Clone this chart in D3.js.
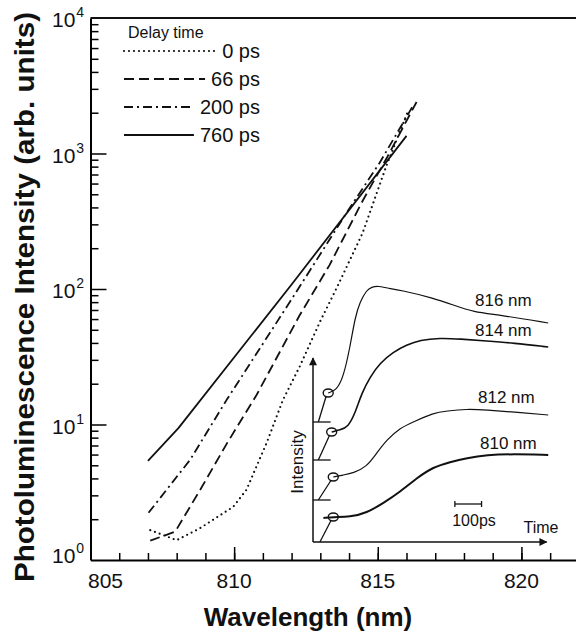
<!DOCTYPE html>
<html>
<head>
<meta charset="utf-8">
<script src="https://cdn.jsdelivr.net/npm/d3@7"></script>
<style>
  body { margin: 0; background: #fff; }
  svg { display: block; }
  text { font-family: "Liberation Sans", Arial, sans-serif; fill: #111; }
</style>
</head>
<body>
<svg id="chart" width="576" height="633"></svg>
<script>
// main plot: PL spectra at several delay times (wavelength nm, intensity arb. units)
const delayLabels = ["0 ps", "66 ps", "200 ps", "760 ps"];
const pl0ps = [[807.08, 1.66], [808.0, 1.4], [808.8, 1.71], [809.97, 2.47], [810.43, 3.3], [811.13, 7.3],
  [811.7, 15.2], [812.28, 26.7], [813.0, 58], [813.6, 105], [814.47, 258], [815.29, 800], [816.05, 2050]];
const pl66ps = [[807.08, 1.39], [807.95, 1.62], [808.82, 3.3], [809.74, 7.2], [810.78, 16.5],
  [812.28, 64], [813.32, 150], [814.48, 450], [815.34, 950], [816.35, 2400]];
const pl200ps = [[807.02, 2.23], [808.47, 5.5], [809.74, 15.2], [812, 84], [814, 390], [815.06, 850], [816.2, 2200]];
const pl760ps = [[807.0, 5.4], [808.06, 9.4], [812, 108], [816.0, 1350]];
const xMajorTicks = [805, 810, 815, 820];
const yDecades = [1, 10, 100, 1000, 10000];

// inset: transients (time ps, intensity offset units)
const insetLabels = ["816 nm", "814 nm", "812 nm", "810 nm"];
const tr816 = [[57, 149], [89, 152], [114, 165], [139, 195], [158, 225], [176, 240], [201, 252], [220, 255],
  [245, 256], [276, 254], [326, 252], [451, 244], [526, 237], [601, 230], [701, 227], [882, 219]];
const tr814 = [[70, 110], [101, 112], [132, 115], [158, 129], [183, 149], [214, 165], [251, 179], [301, 190],
  [351, 197], [401, 202], [476, 204], [551, 203], [651, 201], [751, 199], [882, 195]];
const tr812 = [[76, 65], [114, 67], [151, 69], [201, 75], [239, 89], [276, 102], [326, 114], [376, 120],
  [451, 129], [501, 131], [576, 133], [651, 132], [751, 130], [882, 127]];
const tr810 = [[39, 24], [76, 25], [139, 25], [201, 29], [264, 39], [326, 50], [389, 64], [451, 75],
  [514, 80], [576, 84], [651, 87], [751, 88], [882, 87]];
const baseLevels = [120, 82, 42, 0];
const markerT = [57, 70, 76, 76];
const markerI = [149, 110, 65, 25];
const diagStartT = [20, 20, 20, 26];
const scaleBarPs = [532, 632];

const svg = d3.select("#chart");

const x = d3.scaleLinear().domain([805, 821.9]).range([90.5, 576]);
const y = d3.scaleLog().domain([1, 1e4]).range([560, 18]);

// y axis: minor + major ticks pointing inward
const yMinor = [];
for (const d of [1, 10, 100, 1000]) for (let k = 2; k <= 9; k++) yMinor.push(k * d);

const gy = svg.append("g").attr("transform", `translate(${x(805)},0)`);
gy.call(d3.axisRight(y).tickValues(yMinor).tickSize(8).tickSizeOuter(0).tickFormat(""));
gy.call(g => g.select(".domain").remove());
svg.append("g").attr("transform", `translate(${x(805)},0)`)
  .call(d3.axisRight(y).tickValues([10, 100, 1000]).tickSize(16).tickSizeOuter(0).tickFormat(""))
  .call(g => g.select(".domain").attr("stroke-width", 2));

// x axis
svg.append("g").attr("transform", `translate(0,${y(1)})`)
  .call(d3.axisTop(x).tickValues(d3.range(806, 822)).tickSize(7).tickSizeOuter(0).tickFormat(""))
  .call(g => g.select(".domain").attr("stroke-width", 2));
svg.append("g").attr("transform", `translate(0,${y(1)})`)
  .call(d3.axisTop(x).tickValues([810, 815, 820]).tickSize(13).tickSizeOuter(0).tickFormat(""))
  .call(g => g.select(".domain").remove());
svg.selectAll("g.tick line").attr("stroke-width", 1.5);

// top frame
svg.append("line")
  .attr("x1", x(805)).attr("x2", x(821.9))
  .attr("y1", y(1e4)).attr("y2", y(1e4))
  .attr("stroke", "#111").attr("stroke-width", 2);

// x tick labels
svg.append("g").selectAll("text").data(xMajorTicks).join("text")
  .attr("x", d => x(d) + (d === 805 ? 15 : 0))
  .attr("y", 588)
  .attr("text-anchor", "middle")
  .style("font-size", "21px")
  .text(d => d);

// y tick labels 10^n
const yl = svg.append("g").selectAll("text").data(yDecades).join("text")
  .attr("x", 52)
  .attr("y", d => y(d) + (d === 1 ? 3 : 9))
  .style("font-size", "21px");
yl.append("tspan").text("10");
yl.append("tspan").attr("dy", -10).attr("dx", 1).style("font-size", "14px").text(d => Math.round(Math.log10(d)));

// axis titles
svg.append("text")
  .attr("x", 308).attr("y", 626)
  .attr("text-anchor", "middle")
  .style("font-size", "26px").style("font-weight", "bold")
  .text("Wavelength (nm)");
svg.append("text")
  .attr("transform", "translate(34,297) rotate(-90)")
  .attr("text-anchor", "middle")
  .attr("textLength", 570).attr("lengthAdjust", "spacingAndGlyphs")
  .style("font-size", "27px").style("font-weight", "bold")
  .text("Photoluminescence Intensity (arb. units)");

// spectra
const styles = [
  { dash: "0,5", cap: "round", w: 2.2 },
  { dash: "10,5", cap: "butt", w: 1.8 },
  { dash: "9,4,2,4", cap: "butt", w: 1.8 },
  { dash: null, cap: "butt", w: 1.8 }
];
const spectra = [pl0ps, pl66ps, pl200ps, pl760ps];
const line = d3.line().x(d => x(d[0])).y(d => y(d[1]));

spectra.forEach((s, i) => {
  svg.append("path")
    .attr("d", line(s))
    .attr("fill", "none")
    .attr("stroke", "#111")
    .attr("stroke-width", styles[i].w)
    .attr("stroke-linecap", styles[i].cap)
    .attr("stroke-linejoin", "round")
    .attr("stroke-dasharray", styles[i].dash);
});

// legend
svg.append("text").attr("x", 128).attr("y", 38).style("font-size", "16px").text("Delay time");
delayLabels.forEach((lab, i) => {
  const ly = 51 + i * 28;
  const t = svg.append("text")
    .attr("x", 260).attr("y", ly + 7)
    .attr("text-anchor", "end")
    .style("font-size", "20px")
    .text(lab);
  const tl = t.node().getComputedTextLength();
  svg.append("line")
    .attr("x1", 124).attr("x2", 260 - tl - 6)
    .attr("y1", ly).attr("y2", ly)
    .attr("stroke", "#111")
    .attr("stroke-width", styles[i].w)
    .attr("stroke-linecap", styles[i].cap)
    .attr("stroke-dasharray", styles[i].dash);
});

// ---- inset ----
const tx = d3.scaleLinear().domain([0, 880]).range([313, 547.7]);
const iy = d3.scaleLinear().domain([0, 260]).range([542, 282]);

const defs = svg.append("defs");
defs.append("marker").attr("id", "arrow")
  .attr("viewBox", "0 0 10 10").attr("refX", 9).attr("refY", 5)
  .attr("markerWidth", 12).attr("markerHeight", 8).attr("markerUnits", "userSpaceOnUse")
  .attr("orient", "auto")
  .append("path").attr("d", "M0,0L10,5L0,10Z").attr("fill", "#111");

svg.append("line")
  .attr("x1", tx(0)).attr("y1", iy(0)).attr("x2", tx(0)).attr("y2", iy(184))
  .attr("stroke", "#111").attr("stroke-width", 1.5).attr("marker-end", "url(#arrow)");
svg.append("line")
  .attr("x1", tx(0)).attr("y1", iy(0)).attr("x2", tx(876)).attr("y2", iy(0))
  .attr("stroke", "#111").attr("stroke-width", 1.5).attr("marker-end", "url(#arrow)");

// baseline ticks and diagonal markers
baseLevels.forEach((b, i) => {
  if (b > 0) {
    svg.append("line")
      .attr("x1", tx(0)).attr("x2", tx(66)).attr("y1", iy(b)).attr("y2", iy(b))
      .attr("stroke", "#111").attr("stroke-width", 1.3);
  }
  svg.append("line")
    .attr("x1", tx(diagStartT[i])).attr("y1", iy(b))
    .attr("x2", tx(markerT[i]) - 2).attr("y2", iy(markerI[i]) + 3)
    .attr("stroke", "#111").attr("stroke-width", 1.3);
  svg.append("ellipse")
    .attr("cx", tx(markerT[i])).attr("cy", iy(markerI[i]))
    .attr("rx", 5).attr("ry", 4)
    .attr("fill", "none").attr("stroke", "#111").attr("stroke-width", 1.4);
});

const tline = d3.line().x(d => tx(d[0])).y(d => iy(d[1])).curve(d3.curveBasis);
const traces = [tr816, tr814, tr812, tr810];
const traceW = [1.2, 1.6, 1.2, 2.0];
traces.forEach((tr, i) => {
  svg.append("path")
    .attr("d", tline(tr))
    .attr("fill", "none").attr("stroke", "#111")
    .attr("stroke-width", traceW[i]);
});

const labelPos = [[475, 306], [475, 336], [478, 403], [480, 449]];
insetLabels.forEach((lab, i) => {
  svg.append("text")
    .attr("x", labelPos[i][0]).attr("y", labelPos[i][1])
    .style("font-size", "17px")
    .text(lab);
});

// scale bar
const sbY = iy(38);
svg.append("line").attr("x1", tx(scaleBarPs[0])).attr("x2", tx(scaleBarPs[1]))
  .attr("y1", sbY).attr("y2", sbY).attr("stroke", "#111").attr("stroke-width", 1.3);
scaleBarPs.forEach(t => {
  svg.append("line").attr("x1", tx(t)).attr("x2", tx(t))
    .attr("y1", sbY - 3).attr("y2", sbY + 3).attr("stroke", "#111").attr("stroke-width", 1.3);
});
svg.append("text").attr("x", 474).attr("y", 526).attr("text-anchor", "middle")
  .style("font-size", "16px").text("100ps");
svg.append("text").attr("x", 541).attr("y", 533).attr("text-anchor", "middle")
  .style("font-size", "16px").text("Time");
svg.append("text")
  .attr("transform", "translate(303,462) rotate(-90)")
  .attr("text-anchor", "middle")
  .style("font-size", "17px")
  .text("Intensity");
</script>
</body>
</html>
